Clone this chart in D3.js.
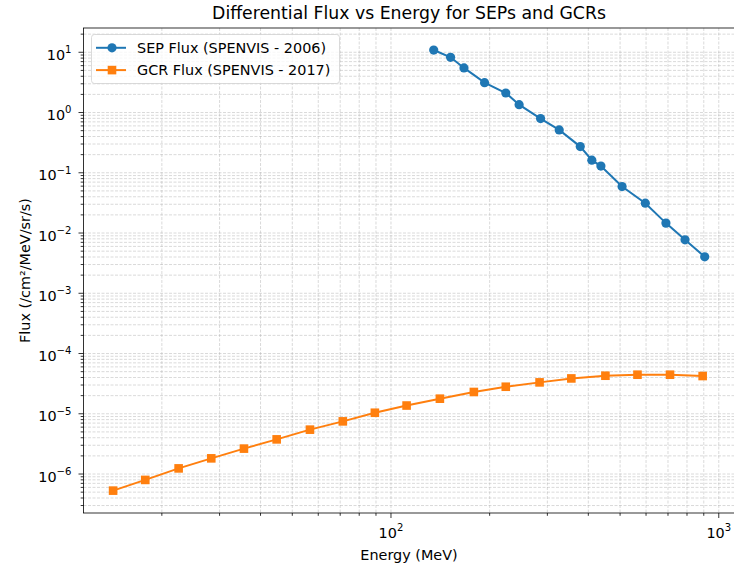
<!DOCTYPE html>
<html>
<head>
<meta charset="utf-8">
<script src="https://cdn.jsdelivr.net/npm/d3@7"></script>
<style>
  body { margin: 0; background: #fff; }
  svg { font-family: "DejaVu Sans", sans-serif; }
</style>
</head>
<body>
<div id="chart"></div>
<script>
// SEP flux (SPENVIS - 2006)
const sepEnergy = [135, 152, 167, 193, 224, 246, 286, 326, 378, 410, 437, 507, 597, 690, 789, 906]
const sepFlux = [10.9, 8.26, 5.5, 3.13, 2.11, 1.35, 0.793, 0.514, 0.272, 0.162, 0.129, 0.059, 0.0313, 0.0146, 0.0077, 0.00403]

// GCR flux (SPENVIS - 2017)
const gcrEnergy = [14.2, 17.8, 22.5, 28.3, 35.6, 44.8, 56.6, 71.3, 89.3, 111.6, 141, 179, 224, 284, 355, 451, 565, 710, 893]
const gcrFlux = [5.3e-7, 7.98e-7, 1.24e-6, 1.82e-6, 2.64e-6, 3.76e-6, 5.45e-6, 7.48e-6, 1.04e-5, 1.37e-5,
  1.78e-5, 2.3e-5, 2.81e-5, 3.32e-5, 3.86e-5, 4.28e-5, 4.45e-5, 4.45e-5, 4.23e-5]

const seriesNames = ['SEP Flux (SPENVIS - 2006)', 'GCR Flux (SPENVIS - 2017)']
const xTickExp = [2, 3]
const yTickExp = [-6, -5, -4, -3, -2, -1, 0, 1]

const W = 734
const H = 565
const plotLeft = 83.5
const plotRight = 734.5
const plotTop = 28
const plotBottom = 513

const fontSize = 14.4

const svg = d3.select('#chart').append('svg')
  .attr('width', W)
  .attr('height', H)

// 軸範囲（matplotlib の 5% マージン相当）
const xScale = d3.scaleLog()
  .domain([Math.pow(10, 1.062), Math.pow(10, 3.048)])
  .range([plotLeft, plotRight])

const yScale = d3.scaleLog()
  .domain([Math.pow(10, -6.647), Math.pow(10, 1.403)])
  .range([plotBottom, plotTop])

// grid (major + minor)
const xGrid = []
for (let e = 1; e <= 3; e++) {
  for (let m = 1; m < 10; m++) {
    const v = m * Math.pow(10, e)
    if (v >= xScale.domain()[0] && v <= xScale.domain()[1]) xGrid.push({ v, major: m === 1 })
  }
}
const yGrid = []
for (let e = -7; e <= 1; e++) {
  for (let m = 1; m < 10; m++) {
    const v = m * Math.pow(10, e)
    if (v >= yScale.domain()[0] && v <= yScale.domain()[1]) yGrid.push({ v, major: m === 1 })
  }
}

const grid = svg.append('g')
grid.selectAll('line.gx')
  .data(xGrid)
  .enter()
  .append('line')
  .attr('x1', (d) => xScale(d.v))
  .attr('x2', (d) => xScale(d.v))
  .attr('y1', plotTop)
  .attr('y2', plotBottom)
  .attr('stroke', '#b0b0b0')
  .attr('stroke-opacity', 0.6)
  .attr('stroke-width', 0.8)
  .attr('stroke-dasharray', '3,1.5')
grid.selectAll('line.gy')
  .data(yGrid)
  .enter()
  .append('line')
  .attr('y1', (d) => yScale(d.v))
  .attr('y2', (d) => yScale(d.v))
  .attr('x1', plotLeft)
  .attr('x2', plotRight)
  .attr('stroke', '#b0b0b0')
  .attr('stroke-opacity', 0.6)
  .attr('stroke-width', 0.8)
  .attr('stroke-dasharray', '3,1.5')

// ticks
const ticks = svg.append('g').attr('stroke', '#000').attr('stroke-width', 0.8)
ticks.selectAll('line.tx')
  .data(xGrid)
  .enter()
  .append('line')
  .attr('x1', (d) => xScale(d.v))
  .attr('x2', (d) => xScale(d.v))
  .attr('y1', plotBottom)
  .attr('y2', (d) => plotBottom + (d.major ? 5 : 2.8))
ticks.selectAll('line.ty')
  .data(yGrid)
  .enter()
  .append('line')
  .attr('y1', (d) => yScale(d.v))
  .attr('y2', (d) => yScale(d.v))
  .attr('x1', plotLeft)
  .attr('x2', (d) => plotLeft - (d.major ? 5 : 2.8))

// tick labels 10^n
function powLabel (sel, e) {
  sel.append('tspan').text('10')
  sel.append('tspan')
    .attr('dy', -6.7)
    .attr('font-size', 10.1)
    .text(e < 0 ? '\u2212' + Math.abs(e) : String(e))
}

svg.append('g')
  .selectAll('text')
  .data(xTickExp)
  .enter()
  .append('text')
  .attr('x', (d) => xScale(Math.pow(10, d)))
  .attr('y', plotBottom + 25)
  .attr('text-anchor', 'middle')
  .attr('font-size', fontSize)
  .attr('fill', '#000')
  .each(function (d) { powLabel(d3.select(this), d) })

svg.append('g')
  .selectAll('text')
  .data(yTickExp)
  .enter()
  .append('text')
  .attr('x', plotLeft - 12)
  .attr('y', (d) => yScale(Math.pow(10, d)) + 7.5)
  .attr('text-anchor', 'end')
  .attr('font-size', fontSize)
  .attr('fill', '#000')
  .each(function (d) { powLabel(d3.select(this), d) })

// spines
svg.append('rect')
  .attr('x', plotLeft)
  .attr('y', plotTop)
  .attr('width', plotRight - plotLeft)
  .attr('height', plotBottom - plotTop)
  .attr('fill', 'none')
  .attr('stroke', '#000')
  .attr('stroke-width', 0.8)

// series
const line = d3.line()
  .x((d) => xScale(d[0]))
  .y((d) => yScale(d[1]))

const sepData = sepEnergy.map((e, i) => [e, sepFlux[i]])
const gcrData = gcrEnergy.map((e, i) => [e, gcrFlux[i]])

svg.append('path')
  .datum(sepData)
  .attr('d', line)
  .attr('fill', 'none')
  .attr('stroke', '#1f77b4')
  .attr('stroke-width', 2)
svg.append('g')
  .selectAll('circle')
  .data(sepData)
  .enter()
  .append('circle')
  .attr('cx', (d) => xScale(d[0]))
  .attr('cy', (d) => yScale(d[1]))
  .attr('r', 4.6)
  .attr('fill', '#1f77b4')

svg.append('path')
  .datum(gcrData)
  .attr('d', line)
  .attr('fill', 'none')
  .attr('stroke', '#ff7f0e')
  .attr('stroke-width', 2)
svg.append('g')
  .selectAll('rect')
  .data(gcrData)
  .enter()
  .append('rect')
  .attr('x', (d) => xScale(d[0]) - 4.3)
  .attr('y', (d) => yScale(d[1]) - 4.3)
  .attr('width', 8.6)
  .attr('height', 8.6)
  .attr('fill', '#ff7f0e')

// legend
const legend = svg.append('g').attr('transform', 'translate(91.5, 34.5)')
legend.append('rect')
  .attr('width', 248)
  .attr('height', 49)
  .attr('rx', 3)
  .attr('fill', '#fff')
  .attr('fill-opacity', 0.8)
  .attr('stroke', '#d0d0d0')
  .attr('stroke-width', 0.8)
const legendColors = ['#1f77b4', '#ff7f0e']
seriesNames.forEach((name, i) => {
  const y = 13.3 + i * 22.3
  legend.append('line')
    .attr('x1', 4.5).attr('x2', 34.5)
    .attr('y1', y).attr('y2', y)
    .attr('stroke', legendColors[i])
    .attr('stroke-width', 2)
  if (i === 0) {
    legend.append('circle').attr('cx', 20.5).attr('cy', y).attr('r', 4.6).attr('fill', legendColors[i])
  } else {
    legend.append('rect').attr('x', 16.2).attr('y', y - 4.3).attr('width', 8.6).attr('height', 8.6).attr('fill', legendColors[i])
  }
  legend.append('text')
    .attr('x', 45.5)
    .attr('y', y + 5.3)
    .attr('font-size', fontSize)
    .attr('fill', '#000')
    .text(name)
})

// titles
svg.append('text')
  .attr('x', (plotLeft + plotRight) / 2)
  .attr('y', 19.3)
  .attr('text-anchor', 'middle')
  .attr('font-size', 17.3)
  .text('Differential Flux vs Energy for SEPs and GCRs')

svg.append('text')
  .attr('x', (plotLeft + plotRight) / 2)
  .attr('y', 559.5)
  .attr('text-anchor', 'middle')
  .attr('font-size', fontSize)
  .text('Energy (MeV)')

svg.append('text')
  .attr('transform', 'translate(29.5, ' + ((plotTop + plotBottom) / 2) + ') rotate(-90)')
  .attr('text-anchor', 'middle')
  .attr('font-size', fontSize)
  .text('Flux (/cm\u00b2/MeV/sr/s)')
</script>
</body>
</html>
